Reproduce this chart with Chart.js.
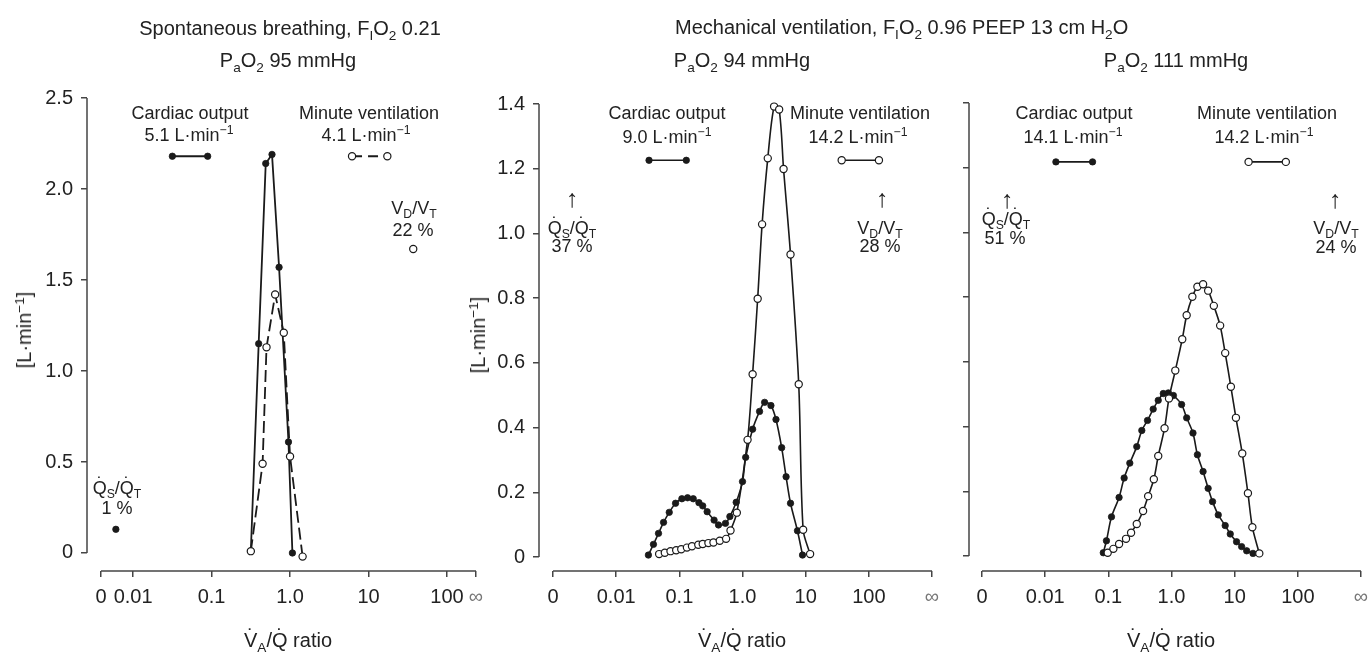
<!DOCTYPE html>
<html><head><meta charset="utf-8">
<script src="https://cdn.jsdelivr.net/npm/chart.js@4.4.1/dist/chart.umd.min.js"></script>
<style>
body{margin:0;background:#fff;width:1369px;height:653px;overflow:hidden;position:relative;font-family:"Liberation Sans",Arial,sans-serif;color:#222}
canvas{position:absolute;top:0}
.t{position:absolute;white-space:nowrap;transform:translate(-50%,-50%);line-height:1;font-size:18px}
.h{font-size:20px}
.l{transform:translate(0,-50%)}
.a{font-size:25px;font-weight:300}
.r{transform:translate(-50%,-50%) rotate(-90deg);font-size:20px}
sub{font-size:0.68em;vertical-align:-0.35em;line-height:0}
sup{font-size:0.68em;vertical-align:0.55em;line-height:0}
.d{position:relative;display:inline-block}
.d::after{content:'\02D9';position:absolute;left:0;right:0;text-align:center;top:-0.22em}
</style></head><body>
<canvas id="c1" width="490" height="653" style="left:0px"></canvas>
<canvas id="c2" width="450" height="653" style="left:490px"></canvas>
<canvas id="c3" width="429" height="653" style="left:940px"></canvas>

<div class="t h" style="left:290px;top:28px">Spontaneous breathing, F<sub>I</sub>O<sub>2</sub> 0.21</div>
<div class="t h" style="left:288px;top:60px">P<sub>a</sub>O<sub>2</sub> 95 mmHg</div>
<div class="t h l" style="left:675px;top:27px">Mechanical ventilation, F<sub>I</sub>O<sub>2</sub> 0.96 PEEP 13 cm H<sub>2</sub>O</div>
<div class="t h" style="left:742px;top:60px">P<sub>a</sub>O<sub>2</sub> 94 mmHg</div>
<div class="t h" style="left:1176px;top:60px">P<sub>a</sub>O<sub>2</sub> 111 mmHg</div>

<div class="t" style="left:190px;top:113px">Cardiac output</div>
<div class="t" style="left:189px;top:135px">5.1 L·min<sup>−1</sup></div>
<div class="t" style="left:369px;top:113px">Minute ventilation</div>
<div class="t" style="left:366px;top:135px">4.1 L·min<sup>−1</sup></div>
<div class="t" style="left:414px;top:208px">V<sub>D</sub>/V<sub>T</sub></div>
<div class="t" style="left:413px;top:230px">22 %</div>
<div class="t" style="left:117px;top:488px"><span class="d">Q</span><sub>S</sub>/<span class="d">Q</span><sub>T</sub></div>
<div class="t" style="left:117px;top:508px">1 %</div>
<div class="t r" style="left:24px;top:330px">[L·min<sup>−1</sup>]</div>
<div class="t h" style="left:288px;top:640px"><span class="d">V</span><sub>A</sub>/<span class="d">Q</span> ratio</div>

<div class="t" style="left:667px;top:113px">Cardiac output</div>
<div class="t" style="left:667px;top:137px">9.0 L·min<sup>−1</sup></div>
<div class="t" style="left:860px;top:113px">Minute ventilation</div>
<div class="t" style="left:858px;top:137px">14.2 L·min<sup>−1</sup></div>
<div class="t a" style="left:572px;top:198px">↑</div>
<div class="t" style="left:572px;top:228px"><span class="d">Q</span><sub>S</sub>/<span class="d">Q</span><sub>T</sub></div>
<div class="t" style="left:572px;top:246px">37 %</div>
<div class="t a" style="left:882px;top:198px">↑</div>
<div class="t" style="left:880px;top:228px">V<sub>D</sub>/V<sub>T</sub></div>
<div class="t" style="left:880px;top:246px">28 %</div>
<div class="t r" style="left:478px;top:335px">[L·min<sup>−1</sup>]</div>
<div class="t h" style="left:742px;top:640px"><span class="d">V</span><sub>A</sub>/<span class="d">Q</span> ratio</div>

<div class="t" style="left:1074px;top:113px">Cardiac output</div>
<div class="t" style="left:1073px;top:137px">14.1 L·min<sup>−1</sup></div>
<div class="t" style="left:1267px;top:113px">Minute ventilation</div>
<div class="t" style="left:1264px;top:137px">14.2 L·min<sup>−1</sup></div>
<div class="t a" style="left:1007px;top:199px">↑</div>
<div class="t" style="left:1006px;top:219px"><span class="d">Q</span><sub>S</sub>/<span class="d">Q</span><sub>T</sub></div>
<div class="t" style="left:1005px;top:238px">51 %</div>
<div class="t a" style="left:1335px;top:199px">↑</div>
<div class="t" style="left:1336px;top:228px">V<sub>D</sub>/V<sub>T</sub></div>
<div class="t" style="left:1336px;top:247px">24 %</div>
<div class="t h" style="left:1171px;top:640px"><span class="d">V</span><sub>A</sub>/<span class="d">Q</span> ratio</div>

<script>
// x values are log10(VA/Q); "0" and "∞" are placed at the ends of each axis
const xTickLabels = ['0', '0.01', '0.1', '1.0', '10', '100', '∞'];
const xTicksPanel1 = [-2.41, -2, -1, 0, 1, 2, 2.37];
const xTicksPanel23 = [-3, -2, -1, 0, 1, 2, 3];
const yTicksPanel1 = [0, 0.5, 1, 1.5, 2, 2.5];
const yLabelsPanel1 = ['0', '0.5', '1.0', '1.5', '2.0', '2.5'];
const yTicksPanel23 = [0, 0.2, 0.4, 0.6, 0.8, 1.0, 1.2, 1.4];
const yLabelsPanel2 = ['0', '0.2', '0.4', '0.6', '0.8', '1.0', '1.2', '1.4'];
const yLabelsPanel3 = ['', '', '', '', '', '', '', ''];

// Panel 1: spontaneous breathing
const p1PerfX = [-0.50, -0.40, -0.31, -0.23, -0.14, -0.02, 0.03];
const p1PerfY = [0.01, 1.15, 2.14, 2.19, 1.57, 0.61, 0.00];
const p1VentX = [-0.50, -0.35, -0.30, -0.19, -0.08, 0.00, 0.16];
const p1VentY = [0.01, 0.49, 1.13, 1.42, 1.21, 0.53, -0.02];
const p1ShuntX = [-2.22], p1ShuntY = [0.13];
const p1DeadX = [1.57], p1DeadY = [1.67];
const p1KeyCOX = [-1.50, -1.05], p1KeyCOY = [2.18, 2.18];
const p1KeyVEX = [0.79, 1.24], p1KeyVEY = [2.18, 2.18];

// Panel 2: mechanical ventilation, PaO2 94
const p2PerfX = [-1.49, -1.41, -1.33, -1.25, -1.16, -1.06, -0.96, -0.87, -0.78, -0.69, -0.63, -0.56, -0.45, -0.38, -0.27, -0.20, -0.10, 0.00, 0.05, 0.16, 0.27, 0.35, 0.45, 0.53, 0.62, 0.69, 0.76, 0.87, 0.95];
const p2PerfY = [0.006, 0.039, 0.073, 0.107, 0.138, 0.166, 0.180, 0.183, 0.180, 0.168, 0.158, 0.140, 0.114, 0.099, 0.104, 0.125, 0.169, 0.233, 0.308, 0.395, 0.450, 0.478, 0.468, 0.425, 0.338, 0.248, 0.166, 0.081, 0.006];
const p2VentX = [-1.32, -1.23, -1.14, -1.05, -0.97, -0.88, -0.80, -0.70, -0.63, -0.54, -0.46, -0.36, -0.26, -0.19, -0.09, 0.08, 0.16, 0.24, 0.31, 0.40, 0.50, 0.58, 0.65, 0.76, 0.89, 0.96, 1.07];
const p2VentY = [0.009, 0.013, 0.018, 0.021, 0.024, 0.029, 0.033, 0.038, 0.040, 0.043, 0.045, 0.050, 0.056, 0.082, 0.137, 0.362, 0.565, 0.798, 1.028, 1.232, 1.392, 1.383, 1.199, 0.935, 0.534, 0.084, 0.009];
const p2KeyCOX = [-1.48, -0.89], p2KeyCOY = [1.226, 1.226];
const p2KeyVEX = [1.57, 2.16], p2KeyVEY = [1.226, 1.226];

// Panel 3: mechanical ventilation, PaO2 111
const p3PerfX = [-1.08, -1.03, -0.95, -0.83, -0.75, -0.66, -0.55, -0.47, -0.38, -0.29, -0.21, -0.13, -0.05, 0.03, 0.16, 0.24, 0.34, 0.41, 0.50, 0.58, 0.65, 0.74, 0.85, 0.93, 1.03, 1.11, 1.19, 1.29];
const p3PerfY = [0.010, 0.047, 0.121, 0.181, 0.241, 0.287, 0.338, 0.388, 0.419, 0.454, 0.481, 0.502, 0.504, 0.496, 0.468, 0.427, 0.380, 0.313, 0.261, 0.209, 0.168, 0.127, 0.094, 0.068, 0.044, 0.029, 0.016, 0.008];
const p3VentX = [-1.01, -0.92, -0.83, -0.72, -0.64, -0.55, -0.45, -0.37, -0.28, -0.21, -0.11, -0.04, 0.06, 0.17, 0.24, 0.33, 0.41, 0.50, 0.58, 0.67, 0.77, 0.85, 0.94, 1.02, 1.12, 1.21, 1.28, 1.39];
const p3VentY = [0.010, 0.022, 0.037, 0.053, 0.072, 0.099, 0.139, 0.185, 0.237, 0.309, 0.395, 0.487, 0.573, 0.670, 0.744, 0.801, 0.832, 0.840, 0.820, 0.773, 0.712, 0.627, 0.523, 0.427, 0.317, 0.194, 0.089, 0.008];
const p3KeyCOX = [-1.83, -1.25], p3KeyCOY = [1.218, 1.218];
const p3KeyVEX = [1.22, 1.81], p3KeyVEY = [1.218, 1.218];

const INK = '#1a1a1a';
const AXIS = '#454545';
const FONT = '"Liberation Sans", Arial, sans-serif';
const pts = (xs, ys) => xs.map((x, i) => ({x, y: ys[i]}));

function filled(xs, ys, o) {
  return Object.assign({data: pts(xs, ys), borderColor: INK, backgroundColor: INK,
    pointBackgroundColor: INK, pointBorderColor: INK, pointRadius: 3.2, pointBorderWidth: 0.8,
    borderWidth: 1.6, fill: false, tension: 0, order: 2, clip: 10}, o || {});
}
function open(xs, ys, o) {
  return Object.assign({data: pts(xs, ys), borderColor: INK, backgroundColor: '#fff',
    pointBackgroundColor: '#fff', pointBorderColor: INK, pointRadius: 3.6, pointBorderWidth: 1.2,
    borderWidth: 1.6, fill: false, tension: 0, order: 1, clip: 10}, o || {});
}

const axisLines = {
  id: 'axisLines',
  beforeDatasetsDraw(chart) {
    const {ctx, chartArea, scales: {x, y}} = chart;
    ctx.save();
    ctx.strokeStyle = AXIS; ctx.lineWidth = 1.5;
    ctx.beginPath();
    ctx.moveTo(chartArea.left, y.getPixelForValue(y.ticks[0].value));
    ctx.lineTo(chartArea.left, y.getPixelForValue(y.ticks[y.ticks.length - 1].value));
    ctx.moveTo(x.getPixelForValue(x.ticks[0].value), chartArea.bottom);
    ctx.lineTo(x.getPixelForValue(x.ticks[x.ticks.length - 1].value), chartArea.bottom);
    ctx.stroke();
    ctx.restore();
  }
};

function makeChart(id, c) {
  return new Chart(document.getElementById(id), {
    type: 'line',
    data: {datasets: c.datasets},
    options: {
      responsive: false, animation: false, maintainAspectRatio: false,
      layout: {padding: {top: c.top, right: c.right, left: 0, bottom: 0}},
      plugins: {legend: {display: false}, tooltip: {enabled: false}},
      scales: {
        x: {
          type: 'linear', min: c.xMin, max: c.xMax,
          afterBuildTicks: s => { s.ticks = c.xTicks.map(v => ({value: v})); },
          afterFit: s => { s.height = 82; s.paddingLeft = 0; s.paddingRight = 0; },
          ticks: {autoSkip: false, maxRotation: 0, minRotation: 0, padding: 8,
            color: ctx => ctx.index === xTickLabels.length - 1 ? '#777' : '#222',
            font: {family: FONT, size: 20}, callback: (v, i) => xTickLabels[i]},
          grid: {drawOnChartArea: false, drawTicks: true, tickLength: 6, color: AXIS, lineWidth: 1.5},
          border: {display: false}
        },
        y: {
          type: 'linear', min: c.yMin, max: c.yMax,
          afterBuildTicks: s => { s.ticks = c.yTicks.map(v => ({value: v})); },
          afterFit: s => { s.width = c.yWidth; s.paddingTop = 0; s.paddingBottom = 0; },
          ticks: {autoSkip: false, padding: 8, color: '#222',
            font: {family: FONT, size: 20}, callback: (v, i) => c.yLabels[i]},
          grid: {drawOnChartArea: false, drawTicks: true, tickLength: 6, color: AXIS, lineWidth: 1.5},
          border: {display: false}
        }
      }
    },
    plugins: [axisLines]
  });
}

makeChart('c1', {
  top: 98, right: 14, yWidth: 87,
  xMin: -2.588, xMax: 2.37, xTicks: xTicksPanel1,
  yMin: -0.099, yMax: 2.5, yTicks: yTicksPanel1, yLabels: yLabelsPanel1,
  datasets: [
    open(p1VentX, p1VentY, {borderDash: [12, 5], borderWidth: 1.8}),
    filled(p1PerfX, p1PerfY, {borderWidth: 1.8}),
    filled(p1ShuntX, p1ShuntY, {showLine: false}),
    open(p1DeadX, p1DeadY, {showLine: false}),
    filled(p1KeyCOX, p1KeyCOY, {borderWidth: 1.8}),
    open(p1KeyVEX, p1KeyVEY, {borderDash: [10, 6], borderWidth: 1.8})
  ]
});

makeChart('c2', {
  top: 104, right: 8, yWidth: 49,
  xMin: -3.222, xMax: 3, xTicks: xTicksPanel23,
  yMin: -0.0433, yMax: 1.4, yTicks: yTicksPanel23, yLabels: yLabelsPanel2,
  datasets: [
    open(p2VentX, p2VentY, {tension: 0.3}),
    filled(p2PerfX, p2PerfY, {tension: 0.3}),
    filled(p2KeyCOX, p2KeyCOY),
    open(p2KeyVEX, p2KeyVEY)
  ]
});

makeChart('c3', {
  top: 103, right: 8, yWidth: 29,
  xMin: -3.206, xMax: 3, xTicks: xTicksPanel23,
  yMin: -0.0464, yMax: 1.4, yTicks: yTicksPanel23, yLabels: yLabelsPanel3,
  datasets: [
    open(p3VentX, p3VentY, {tension: 0.3}),
    filled(p3PerfX, p3PerfY, {tension: 0.3}),
    filled(p3KeyCOX, p3KeyCOY),
    open(p3KeyVEX, p3KeyVEY)
  ]
});
</script>
</body></html>
